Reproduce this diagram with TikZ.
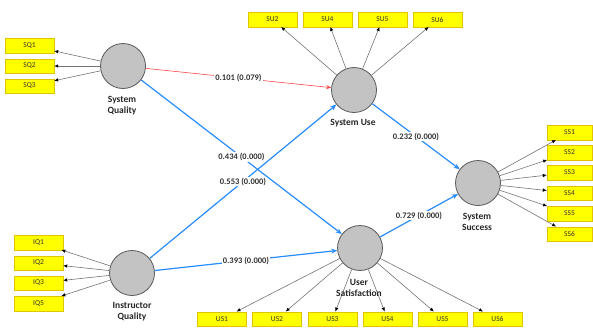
\documentclass[tikz,border=0pt]{standalone}
\usepackage{fontspec}
\setmainfont{Carlito}
\usetikzlibrary{arrows.meta}
\definecolor{pathblue}{RGB}{40,140,255}
\definecolor{pathred}{RGB}{255,70,70}
\definecolor{boxyellow}{RGB}{255,255,0}
\definecolor{boxedge}{RGB}{225,195,0}
\definecolor{latentgray}{RGB}{195,195,195}
\definecolor{latentedge}{RGB}{90,90,90}
\definecolor{indline}{RGB}{115,115,115}
\begin{document}
\begin{tikzpicture}[x=1pt,y=-1pt,
  latent/.style={circle,draw=latentedge,fill=latentgray,line width=0.8pt,minimum size=45pt,inner sep=0pt},
  indbox/.style={rectangle,draw=boxedge,fill=boxyellow,line width=0.4pt,minimum width=49pt,minimum height=14.5pt,inner sep=0pt,font=\fontsize{7.5}{8}\selectfont,text=black!80},
  lvlabel/.style={font=\bfseries\fontsize{9.5}{11}\selectfont,align=center,text=black!85},
  indarrow/.style={draw=indline,line width=0.6pt,-{Latex[length=4pt,width=3.5pt,color=black]}},
  blueline/.style={draw=pathblue,line width=1.2pt,-{Stealth[length=6pt,width=5pt]}},
  redline/.style={draw=pathred,line width=0.6pt,-{Stealth[length=5pt,width=4pt]}},
  coef/.style={fill=white,inner sep=1pt,font=\bfseries\fontsize{8.5}{9}\selectfont,text=black!80}]
\useasboundingbox (0,0) rectangle (593,327);

% latent variables
\node[latent] (sq) at (123,66) {};
\node[latent] (su) at (354,90) {};
\node[latent] (iq) at (132,273) {};
\node[latent] (us) at (360,248) {};
\node[latent] (ss) at (478,183) {};

% indicators
\node[indbox] (sq1) at (29.5,45.5) {SQ1};
\node[indbox] (sq2) at (29.5,66) {SQ2};
\node[indbox] (sq3) at (29.5,86) {SQ3};

\node[indbox] (iq1) at (38.5,242.5) {IQ1};
\node[indbox] (iq2) at (38.5,263) {IQ2};
\node[indbox] (iq3) at (38.5,283) {IQ3};
\node[indbox] (iq5) at (38.5,303.5) {IQ5};

\node[indbox] (su2) at (272.5,19.5) {SU2};
\node[indbox] (su4) at (327.5,19.5) {SU4};
\node[indbox] (su5) at (382.5,19.5) {SU5};
\node[indbox] (su6) at (437.5,19.5) {SU6};

\node[indbox] (us1) at (222,319) {US1};
\node[indbox] (us2) at (277,319) {US2};
\node[indbox] (us3) at (332.5,319) {US3};
\node[indbox] (us4) at (387.5,319) {US4};
\node[indbox] (us5) at (442.5,319) {US5};
\node[indbox] (us6) at (497.5,319) {US6};

\node[indbox,minimum width=45pt] (ss1) at (569.5,132.5) {SS1};
\node[indbox,minimum width=45pt] (ss2) at (569.5,152.5) {SS2};
\node[indbox,minimum width=45pt] (ss3) at (569.5,172.5) {SS3};
\node[indbox,minimum width=45pt] (ss4) at (569.5,193) {SS4};
\node[indbox,minimum width=45pt] (ss5) at (569.5,213.5) {SS5};
\node[indbox,minimum width=45pt] (ss6) at (569.5,234) {SS6};

% indicator arrows
\foreach \t in {sq1,sq2,sq3} \draw[indarrow] (sq) -- (\t);
\foreach \t in {iq1,iq2,iq3,iq5} \draw[indarrow] (iq) -- (\t);
\foreach \t in {su2,su4,su5,su6} \draw[indarrow] (su) -- (\t);
\foreach \t in {us1,us2,us3,us4,us5,us6} \draw[indarrow] (us) -- (\t);
\foreach \t in {ss1,ss2,ss3,ss4,ss5,ss6} \draw[indarrow] (ss) -- (\t);

% structural paths
\draw[redline] (sq) -- node[coef] {0.101 (0.079)} (su);
\draw[blueline] (sq) -- node[coef] {0.434 (0.000)} (us);
\draw[blueline] (iq) -- node[coef] {0.553 (0.000)} (su);
\draw[blueline] (iq) -- node[coef] {0.393 (0.000)} (us);
\draw[blueline] (su) -- node[coef] {0.232 (0.000)} (ss);
\draw[blueline] (us) -- node[coef] {0.729 (0.000)} (ss);

% latent labels
\node[lvlabel] (sqlab) at (122,105.5) {System\\Quality};
\node[lvlabel] (sulab) at (353,123) {System Use};
\node[lvlabel] (iqlab) at (132,311.5) {Instructor\\Quality};
\node[lvlabel] (uslab) at (359,287.5) {User\\Satisfaction};
\node[lvlabel] (sslab) at (477,222) {System\\Success};
\end{tikzpicture}
\end{document}
